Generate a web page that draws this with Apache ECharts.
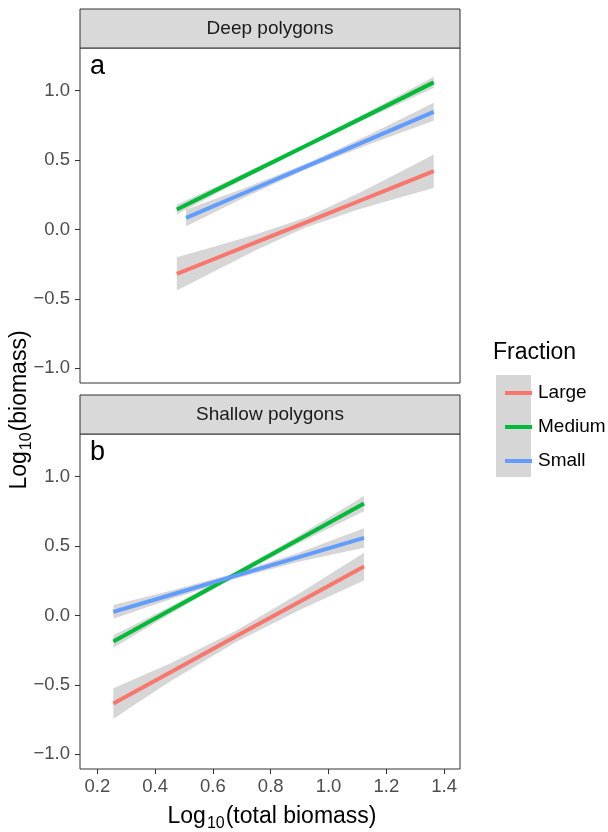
<!DOCTYPE html>
<html>
<head>
<meta charset="utf-8">
<script src="https://cdn.jsdelivr.net/npm/echarts@6/dist/echarts.min.js"></script>
<style>html,body{margin:0;padding:0;background:#fff;}#chart{width:608px;height:832px;}</style>
</head>
<body>
<div id="chart"></div>
<script>
// ---- data ----
const fractions = ['Large', 'Medium', 'Small'];
const panels = ['Deep polygons', 'Shallow polygons'];
const panelTags = ['a', 'b'];
const xTicks = [0.2, 0.4, 0.6, 0.8, 1.0, 1.2, 1.4];
const yTicks = [-1.0, -0.5, 0.0, 0.5, 1.0];

// Deep polygons (panel a)
const deepLargeX   = [0.475, 0.6, 0.75, 0.92, 1.1, 1.25, 1.364];
const deepLargeFit = [-0.32, -0.216, -0.091, 0.05, 0.2, 0.325, 0.42];
const deepLargeLo  = [-0.44, -0.306, -0.147, 0.015, 0.142, 0.233, 0.30];
const deepLargeHi  = [-0.20, -0.126, -0.035, 0.085, 0.258, 0.417, 0.54];

const deepMediumX   = [0.475, 0.7, 0.92, 1.15, 1.364];
const deepMediumFit = [0.144, 0.376, 0.602, 0.839, 1.06];
const deepMediumLo  = [0.109, 0.356, 0.588, 0.817, 1.02];
const deepMediumHi  = [0.179, 0.396, 0.616, 0.861, 1.10];

const deepSmallX   = [0.507, 0.7, 0.93, 1.15, 1.364];
const deepSmallFit = [0.084, 0.256, 0.461, 0.657, 0.848];
const deepSmallLo  = [0.024, 0.221, 0.441, 0.622, 0.783];
const deepSmallHi  = [0.144, 0.291, 0.481, 0.692, 0.913];

// Shallow polygons (panel b)
const shallowLargeX   = [0.2555, 0.45, 0.68, 0.9, 1.1227];
const shallowLargeFit = [-0.634, -0.413, -0.15, 0.10, 0.353];
const shallowLargeLo  = [-0.744, -0.478, -0.19, 0.04, 0.253];
const shallowLargeHi  = [-0.524, -0.348, -0.11, 0.16, 0.453];

const shallowMediumX   = [0.2555, 0.45, 0.68, 0.9, 1.1227];
const shallowMediumFit = [-0.187, 0.036, 0.30, 0.552, 0.807];
const shallowMediumLo  = [-0.232, 0.010, 0.283, 0.525, 0.752];
const shallowMediumHi  = [-0.142, 0.062, 0.317, 0.579, 0.862];

const shallowSmallX   = [0.2555, 0.45, 0.68, 0.9, 1.1227];
const shallowSmallFit = [0.026, 0.146, 0.287, 0.422, 0.559];
const shallowSmallLo  = [-0.024, 0.116, 0.267, 0.390, 0.489];
const shallowSmallHi  = [0.076, 0.176, 0.307, 0.454, 0.629];

// ---- styling ----
const colors = { Large: '#F8766D', Medium: '#00BA38', Small: '#619CFF' };
const FONT = '"Liberation Sans", Arial, Helvetica, sans-serif';
const bandFill = 'rgba(153,153,153,0.4)';

const groups = [
  [ {name:'Large', x:deepLargeX, fit:deepLargeFit, lo:deepLargeLo, hi:deepLargeHi},
    {name:'Medium', x:deepMediumX, fit:deepMediumFit, lo:deepMediumLo, hi:deepMediumHi},
    {name:'Small', x:deepSmallX, fit:deepSmallFit, lo:deepSmallLo, hi:deepSmallHi} ],
  [ {name:'Large', x:shallowLargeX, fit:shallowLargeFit, lo:shallowLargeLo, hi:shallowLargeHi},
    {name:'Medium', x:shallowMediumX, fit:shallowMediumFit, lo:shallowMediumLo, hi:shallowMediumHi},
    {name:'Small', x:shallowSmallX, fit:shallowSmallFit, lo:shallowSmallLo, hi:shallowSmallHi} ]
];

const gridLeft = 80, gridW = 380, gridH = 335;
const gridTops = [48, 434];
const stripH = 39;

const fmt = v => v.toFixed(1).replace('-', '\u2212');

const grids = gridTops.map(t => ({
  left: gridLeft, top: t, width: gridW, height: gridH,
  show: true, borderColor: '#333333', borderWidth: 1, backgroundColor: '#fff'
}));

const xAxes = gridTops.map((t, i) => ({
  type: 'value', gridIndex: i, min: 0.14, max: 1.455, position: 'bottom',
  show: i === 1,
  axisLine: { show: false, onZero: false },
  splitLine: { show: false },
  axisTick: { show: true, length: 5, lineStyle: { color: '#333333', width: 1 }, customValues: xTicks },
  axisLabel: { show: true, customValues: xTicks, formatter: fmt, color: '#4d4d4d',
    fontSize: 18.5, fontFamily: FONT, margin: 8 }
}));

const yAxes = gridTops.map((t, i) => ({
  type: 'value', gridIndex: i, min: -1.106, max: 1.308, position: 'left',
  axisLine: { show: false, onZero: false },
  splitLine: { show: false },
  axisTick: { show: true, length: 5, lineStyle: { color: '#333333', width: 1 }, customValues: yTicks },
  axisLabel: { show: true, customValues: yTicks, formatter: fmt, color: '#4d4d4d',
    fontSize: 18.5, fontFamily: FONT, margin: 10 }
}));

const series = [];
groups.forEach((pg, pi) => {
  pg.forEach(g => {
    series.push({
      type: 'custom', name: g.name + ' band', xAxisIndex: pi, yAxisIndex: pi, silent: true,
      data: g.x.map((x, k) => [x, g.lo[k], g.hi[k]]),
      encode: { x: 0, y: [1, 2] },
      renderItem: (params, api) => {
        if (params.dataIndex !== 0) return null;
        const pts = [];
        for (let k = 0; k < g.x.length; k++) pts.push(api.coord([g.x[k], g.hi[k]]));
        for (let k = g.x.length - 1; k >= 0; k--) pts.push(api.coord([g.x[k], g.lo[k]]));
        return { type: 'polygon', shape: { points: pts }, style: { fill: bandFill } };
      }
    });
    series.push({
      type: 'line', name: g.name, xAxisIndex: pi, yAxisIndex: pi,
      data: g.x.map((x, k) => [x, g.fit[k]]),
      showSymbol: false, symbol: 'none', silent: true,
      color: colors[g.name],
      itemStyle: { color: colors[g.name] },
      lineStyle: { color: colors[g.name], width: 4, cap: 'butt' }
    });
  });
});

const titleRich = {
  m: { fontSize: 23, fontFamily: FONT, fill: '#000', lineHeight: 30, verticalAlign: 'middle' },
  s: { fontSize: 16, fontFamily: FONT, fill: '#000', lineHeight: 18, verticalAlign: 'bottom', padding: [0, 1, 0, 1] }
};

const graphics = [];
gridTops.forEach((t, i) => {
  graphics.push({
    type: 'rect', shape: { x: gridLeft, y: t - stripH, width: gridW, height: stripH },
    style: { fill: '#d9d9d9', stroke: '#333333', lineWidth: 1 }, z: 10
  });
  graphics.push({
    type: 'text', x: gridLeft + gridW / 2, y: t - stripH / 2, z: 11,
    style: { text: panels[i], fill: '#1a1a1a', font: '19px ' + FONT, align: 'center', verticalAlign: 'middle' }
  });
  graphics.push({
    type: 'text', x: 90, y: t + 19, z: 11,
    style: { text: panelTags[i], fill: '#000', font: '27px ' + FONT, align: 'left', verticalAlign: 'middle' }
  });
});
// axis titles
graphics.push({
  type: 'text', x: 272, y: 817, z: 11,
  style: { text: '{m|Log}{s|10}{m|(total biomass)}', align: 'center', verticalAlign: 'middle', rich: titleRich }
});
graphics.push({
  type: 'text', x: 20, y: 410, rotation: Math.PI / 2, z: 11,
  style: { text: '{m|Log}{s|10}{m|(biomass)}', align: 'center', verticalAlign: 'middle', rich: titleRich }
});
// legend title and key background
graphics.push({
  type: 'text', x: 493, y: 353, z: 11,
  style: { text: 'Fraction', fill: '#000', font: '23px ' + FONT, align: 'left', verticalAlign: 'middle' }
});
graphics.push({
  type: 'rect', shape: { x: 496, y: 375, width: 35, height: 102 },
  style: { fill: '#d6d6d6' }, z: 0, silent: true
});

const option = {
  animation: false,
  backgroundColor: '#fff',
  grid: grids,
  xAxis: xAxes,
  yAxis: yAxes,
  series: series,
  legend: {
    data: fractions, orient: 'vertical', left: 500, top: 378,
    icon: 'rect', itemWidth: 27, itemHeight: 4, itemGap: 14,
    selectedMode: false,
    textStyle: { fontSize: 19, fontFamily: FONT, color: '#000', lineHeight: 20, padding: [0, 0, 0, 1] }
  },
  graphic: graphics
};

const chart = echarts.init(document.getElementById('chart'), null, { renderer: 'canvas' });
chart.setOption(option);
</script>
</body>
</html>
